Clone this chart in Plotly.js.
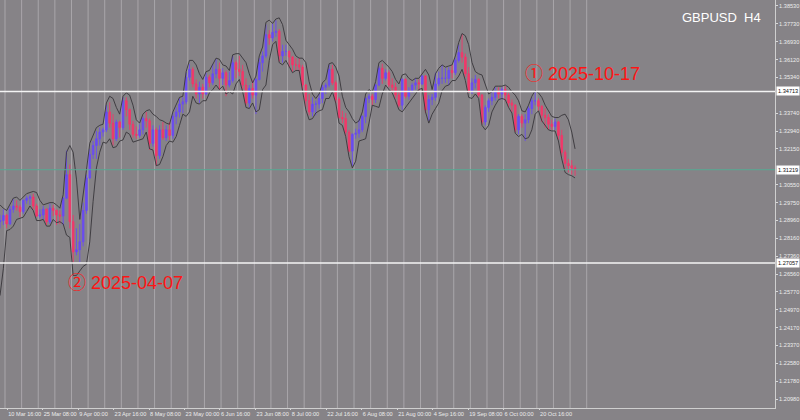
<!DOCTYPE html>
<html>
<head>
<meta charset="utf-8">
<script src="https://cdn.plot.ly/plotly-3.0.1.min.js"></script>
<style>
html,body{margin:0;padding:0;background:#868387;}
#chart{width:800px;height:420px;}
</style>
</head>
<body>
<div id="chart"></div>
<script>
// Daily OHLC (6 Mar 2025 .. 4 Nov 2025), grouped by trading week
const openP = [
  1.2890, 1.2895,
  1.2918, 1.2880, 1.2945, 1.2960, 1.2955,
  1.2935, 1.2985, 1.2995, 1.3000, 1.2960,
  1.2915, 1.2920, 1.2945, 1.2890, 1.2950,
  1.2940, 1.2920, 1.2915, 1.2995, 1.3100,
  1.2890, 1.2755, 1.2765, 1.2800, 1.2940,
  1.3085, 1.3190, 1.3230, 1.3260, 1.3290,
  1.3300, 1.3380, 1.3330, 1.3260, 1.3335,
  1.3310, 1.3430, 1.3390, 1.3325, 1.3280,
  1.3275, 1.3300, 1.3350, 1.3340, 1.3240,
  1.3300, 1.3185, 1.3300, 1.3265, 1.3300,
  1.3275, 1.3360, 1.3380, 1.3415, 1.3425,
  1.3535, 1.3570, 1.3505, 1.3460, 1.3490,
  1.3460, 1.3535, 1.3510, 1.3550, 1.3570,
  1.3530, 1.3555, 1.3500, 1.3520, 1.3600,
  1.3570, 1.3560, 1.3500, 1.3420, 1.3485,
  1.3455, 1.3525, 1.3600, 1.3630, 1.3725,
  1.3710, 1.3735, 1.3740, 1.3630, 1.3650,
  1.3650, 1.3625, 1.3590, 1.3590, 1.3580,
  1.3500, 1.3430, 1.3380, 1.3415, 1.3415,
  1.3440, 1.3490, 1.3500, 1.3570, 1.3510,
  1.3435, 1.3355, 1.3350, 1.3290, 1.3205,
  1.3280, 1.3285, 1.3300, 1.3360, 1.3440,
  1.3450, 1.3435, 1.3500, 1.3575, 1.3530,
  1.3555, 1.3500, 1.3490, 1.3455, 1.3410,
  1.3525, 1.3450, 1.3475, 1.3500, 1.3510,
  1.3505, 1.3540, 1.3390, 1.3435, 1.3445,
  1.3505, 1.3530, 1.3530, 1.3530, 1.3565,
  1.3555, 1.3610, 1.3645, 1.3625, 1.3550,
  1.3470, 1.3510, 1.3525, 1.3455, 1.3335,
  1.3400, 1.3430, 1.3445, 1.3470, 1.3460,
  1.3480, 1.3455, 1.3420, 1.3410, 1.3300,
  1.3360, 1.3330, 1.3345, 1.3395, 1.3430,
  1.3430, 1.3405, 1.3365, 1.3355, 1.3325,
  1.3315, 1.3335, 1.3275, 1.3200, 1.3150,
  1.3140, 1.3130
];
const highP = [
  1.2920, 1.2945,
  1.2925, 1.2960, 1.2990, 1.2985, 1.2965,
  1.2990, 1.3005, 1.3010, 1.3015, 1.2970,
  1.2945, 1.2960, 1.2950, 1.2970, 1.2965,
  1.2945, 1.2940, 1.3000, 1.3207, 1.3145,
  1.2920, 1.2860, 1.2880, 1.2975, 1.3100,
  1.3215, 1.3250, 1.3295, 1.3310, 1.3310,
  1.3410, 1.3423, 1.3370, 1.3345, 1.3340,
  1.3445, 1.3445, 1.3395, 1.3340, 1.3315,
  1.3325, 1.3360, 1.3380, 1.3350, 1.3320,
  1.3310, 1.3320, 1.3335, 1.3320, 1.3335,
  1.3375, 1.3400, 1.3440, 1.3445, 1.3555,
  1.3593, 1.3580, 1.3525, 1.3515, 1.3505,
  1.3555, 1.3545, 1.3595, 1.3615, 1.3600,
  1.3575, 1.3565, 1.3560, 1.3630, 1.3610,
  1.3630, 1.3590, 1.3530, 1.3500, 1.3520,
  1.3530, 1.3620, 1.3650, 1.3770, 1.3745,
  1.3775, 1.3789, 1.3750, 1.3680, 1.3680,
  1.3655, 1.3630, 1.3620, 1.3620, 1.3590,
  1.3505, 1.3460, 1.3445, 1.3430, 1.3460,
  1.3500, 1.3510, 1.3590, 1.3590, 1.3520,
  1.3445, 1.3385, 1.3375, 1.3300, 1.3285,
  1.3305, 1.3345, 1.3365, 1.3445, 1.3460,
  1.3460, 1.3505, 1.3585, 1.3595, 1.3570,
  1.3565, 1.3530, 1.3510, 1.3475, 1.3530,
  1.3530, 1.3490, 1.3510, 1.3530, 1.3525,
  1.3545, 1.3545, 1.3455, 1.3460, 1.3555,
  1.3560, 1.3590, 1.3575, 1.3580, 1.3590,
  1.3620, 1.3680, 1.3726, 1.3640, 1.3580,
  1.3530, 1.3545, 1.3530, 1.3460, 1.3410,
  1.3440, 1.3470, 1.3490, 1.3490, 1.3490,
  1.3495, 1.3465, 1.3435, 1.3415, 1.3370,
  1.3370, 1.3370, 1.3405, 1.3445, 1.3471,
  1.3440, 1.3410, 1.3395, 1.3370, 1.3345,
  1.3350, 1.3340, 1.3300, 1.3210, 1.3170,
  1.3165, 1.3140
];
const lowP = [
  1.2860, 1.2875,
  1.2860, 1.2875, 1.2930, 1.2940, 1.2910,
  1.2925, 1.2970, 1.2965, 1.2945, 1.2910,
  1.2905, 1.2900, 1.2875, 1.2880, 1.2915,
  1.2875, 1.2880, 1.2875, 1.2990, 1.2860,
  1.2708, 1.2740, 1.2710, 1.2780, 1.2925,
  1.3080, 1.3170, 1.3170, 1.3230, 1.3270,
  1.3290, 1.3310, 1.3230, 1.3250, 1.3265,
  1.3300, 1.3360, 1.3300, 1.3265, 1.3260,
  1.3265, 1.3280, 1.3310, 1.3210, 1.3225,
  1.3140, 1.3170, 1.3255, 1.3250, 1.3255,
  1.3260, 1.3325, 1.3355, 1.3375, 1.3415,
  1.3520, 1.3490, 1.3440, 1.3420, 1.3440,
  1.3455, 1.3490, 1.3500, 1.3530, 1.3480,
  1.3500, 1.3450, 1.3490, 1.3510, 1.3530,
  1.3540, 1.3480, 1.3410, 1.3400, 1.3440,
  1.3370, 1.3520, 1.3560, 1.3620, 1.3680,
  1.3695, 1.3715, 1.3605, 1.3600, 1.3630,
  1.3580, 1.3560, 1.3565, 1.3560, 1.3480,
  1.3400, 1.3365, 1.3360, 1.3365, 1.3395,
  1.3420, 1.3460, 1.3490, 1.3500, 1.3420,
  1.3350, 1.3330, 1.3270, 1.3200, 1.3140,
  1.3260, 1.3265, 1.3290, 1.3330, 1.3420,
  1.3410, 1.3420, 1.3495, 1.3505, 1.3520,
  1.3490, 1.3470, 1.3440, 1.3400, 1.3390,
  1.3440, 1.3435, 1.3465, 1.3480, 1.3475,
  1.3500, 1.3375, 1.3340, 1.3410, 1.3430,
  1.3495, 1.3505, 1.3510, 1.3500, 1.3530,
  1.3545, 1.3600, 1.3600, 1.3535, 1.3465,
  1.3460, 1.3485, 1.3445, 1.3325, 1.3320,
  1.3380, 1.3410, 1.3430, 1.3440, 1.3435,
  1.3430, 1.3400, 1.3380, 1.3290, 1.3280,
  1.3310, 1.3250, 1.3330, 1.3370, 1.3410,
  1.3385, 1.3335, 1.3310, 1.3300, 1.3300,
  1.3300, 1.3255, 1.3180, 1.3125, 1.3110,
  1.3100, 1.3095
];
const closeP = [
  1.2895, 1.2918,
  1.2880, 1.2945, 1.2960, 1.2955, 1.2935,
  1.2985, 1.2995, 1.3000, 1.2960, 1.2915,
  1.2920, 1.2945, 1.2890, 1.2950, 1.2940,
  1.2920, 1.2915, 1.2995, 1.3100, 1.2890,
  1.2755, 1.2765, 1.2800, 1.2940, 1.3085,
  1.3190, 1.3230, 1.3260, 1.3290, 1.3300,
  1.3380, 1.3330, 1.3260, 1.3335, 1.3310,
  1.3430, 1.3390, 1.3325, 1.3280, 1.3275,
  1.3300, 1.3350, 1.3340, 1.3240, 1.3300,
  1.3185, 1.3300, 1.3265, 1.3300, 1.3275,
  1.3360, 1.3380, 1.3415, 1.3425, 1.3535,
  1.3570, 1.3505, 1.3460, 1.3490, 1.3460,
  1.3535, 1.3510, 1.3550, 1.3570, 1.3530,
  1.3555, 1.3500, 1.3520, 1.3600, 1.3570,
  1.3560, 1.3500, 1.3420, 1.3485, 1.3455,
  1.3525, 1.3600, 1.3630, 1.3725, 1.3710,
  1.3735, 1.3740, 1.3630, 1.3650, 1.3650,
  1.3625, 1.3590, 1.3590, 1.3580, 1.3500,
  1.3430, 1.3380, 1.3415, 1.3415, 1.3440,
  1.3490, 1.3500, 1.3570, 1.3510, 1.3435,
  1.3355, 1.3350, 1.3290, 1.3205, 1.3280,
  1.3285, 1.3300, 1.3360, 1.3440, 1.3450,
  1.3435, 1.3500, 1.3575, 1.3530, 1.3555,
  1.3500, 1.3490, 1.3455, 1.3410, 1.3525,
  1.3450, 1.3475, 1.3500, 1.3510, 1.3505,
  1.3540, 1.3390, 1.3435, 1.3445, 1.3505,
  1.3530, 1.3530, 1.3530, 1.3565, 1.3555,
  1.3610, 1.3645, 1.3625, 1.3550, 1.3470,
  1.3510, 1.3525, 1.3455, 1.3335, 1.3400,
  1.3430, 1.3445, 1.3470, 1.3460, 1.3480,
  1.3455, 1.3420, 1.3410, 1.3300, 1.3360,
  1.3330, 1.3345, 1.3395, 1.3430, 1.3430,
  1.3405, 1.3365, 1.3355, 1.3325, 1.3315,
  1.3335, 1.3275, 1.3200, 1.3150, 1.3140,
  1.3130, 1.3122
];
// Bollinger band envelopes
const bandUpper = [
  1.2965, 1.2950,
  1.2940, 1.2965, 1.2995, 1.3000, 1.2985,
  1.3000, 1.3015, 1.3020, 1.3025, 1.3020,
  1.2985, 1.2965, 1.2970, 1.2975, 1.2975,
  1.2965, 1.2950, 1.3010, 1.3200, 1.3230,
  1.3200, 1.3080, 1.2900, 1.3000, 1.3120,
  1.3240, 1.3275, 1.3310, 1.3320, 1.3325,
  1.3420, 1.3450, 1.3440, 1.3400, 1.3370,
  1.3450, 1.3465, 1.3455, 1.3410, 1.3345,
  1.3330, 1.3370, 1.3385, 1.3390, 1.3370,
  1.3360, 1.3345, 1.3340, 1.3330, 1.3325,
  1.3380, 1.3410, 1.3445, 1.3450, 1.3560,
  1.3610, 1.3610, 1.3590, 1.3550, 1.3525,
  1.3560, 1.3565, 1.3590, 1.3620, 1.3615,
  1.3590, 1.3585, 1.3565, 1.3635, 1.3640,
  1.3640, 1.3620, 1.3600, 1.3550, 1.3510,
  1.3540, 1.3630, 1.3670, 1.3780, 1.3790,
  1.3775, 1.3795, 1.3800, 1.3770, 1.3700,
  1.3680, 1.3660, 1.3630, 1.3620, 1.3620,
  1.3600, 1.3515, 1.3460, 1.3440, 1.3460,
  1.3510, 1.3525, 1.3595, 1.3600, 1.3580,
  1.3540, 1.3450, 1.3400, 1.3380, 1.3350,
  1.3330, 1.3340, 1.3380, 1.3460, 1.3480,
  1.3470, 1.3515, 1.3600, 1.3610, 1.3595,
  1.3580, 1.3560, 1.3525, 1.3505, 1.3545,
  1.3550, 1.3530, 1.3520, 1.3530, 1.3530,
  1.3550, 1.3570, 1.3545, 1.3480, 1.3550,
  1.3575, 1.3590, 1.3580, 1.3585, 1.3590,
  1.3630, 1.3690, 1.3730, 1.3720, 1.3680,
  1.3600, 1.3560, 1.3550, 1.3545, 1.3500,
  1.3460, 1.3470, 1.3495, 1.3495, 1.3495,
  1.3500, 1.3490, 1.3470, 1.3455, 1.3430,
  1.3385, 1.3380, 1.3410, 1.3450, 1.3475,
  1.3465, 1.3445, 1.3410, 1.3385, 1.3360,
  1.3355, 1.3355, 1.3365, 1.3370, 1.3345,
  1.3290, 1.3215
];
const bandLower = [
  1.2560, 1.2680,
  1.2850, 1.2855, 1.2870, 1.2900, 1.2905,
  1.2910, 1.2935, 1.2960, 1.2940, 1.2895,
  1.2895, 1.2900, 1.2870, 1.2870, 1.2900,
  1.2885, 1.2890, 1.2880, 1.2830, 1.2820,
  1.2650, 1.2650, 1.2670, 1.2690, 1.2700,
  1.2800, 1.2980, 1.3130, 1.3200, 1.3245,
  1.3240, 1.3260, 1.3220, 1.3225, 1.3250,
  1.3255, 1.3290, 1.3280, 1.3245, 1.3250,
  1.3255, 1.3260, 1.3290, 1.3215, 1.3210,
  1.3140, 1.3145, 1.3180, 1.3230, 1.3250,
  1.3245, 1.3270, 1.3320, 1.3370, 1.3360,
  1.3380, 1.3450, 1.3420, 1.3415, 1.3430,
  1.3430, 1.3465, 1.3480, 1.3500, 1.3480,
  1.3495, 1.3460, 1.3470, 1.3460, 1.3505,
  1.3525, 1.3470, 1.3400, 1.3395, 1.3420,
  1.3380, 1.3390, 1.3480, 1.3500, 1.3610,
  1.3680, 1.3695, 1.3600, 1.3590, 1.3610,
  1.3580, 1.3555, 1.3565, 1.3565, 1.3475,
  1.3390, 1.3345, 1.3350, 1.3375, 1.3385,
  1.3390, 1.3440, 1.3440, 1.3470, 1.3420,
  1.3330, 1.3320, 1.3270, 1.3180, 1.3130,
  1.3160, 1.3250, 1.3255, 1.3260, 1.3330,
  1.3410, 1.3405, 1.3400, 1.3460, 1.3500,
  1.3480, 1.3465, 1.3430, 1.3390, 1.3380,
  1.3400, 1.3420, 1.3440, 1.3465, 1.3480,
  1.3485, 1.3380, 1.3330, 1.3370, 1.3395,
  1.3420, 1.3475, 1.3495, 1.3500, 1.3520,
  1.3520, 1.3540, 1.3570, 1.3520, 1.3445,
  1.3440, 1.3460, 1.3440, 1.3320, 1.3300,
  1.3320, 1.3380, 1.3410, 1.3435, 1.3440,
  1.3435, 1.3400, 1.3375, 1.3285, 1.3270,
  1.3280, 1.3260, 1.3265, 1.3300, 1.3370,
  1.3385, 1.3340, 1.3320, 1.3300, 1.3295,
  1.3295, 1.3250, 1.3170, 1.3110, 1.3100,
  1.3095, 1.3085
];
// Time-axis labels (positions in trading-day units, day 0 = Mon 10 Mar)
const timeTickDays = [0.1667, 10.833, 21.5, 32.167, 42.833, 53.5, 64.167, 74.833, 85.5, 96.167, 106.833, 117.5, 128.167, 138.833, 149.5, 160.167];
const timeTickLabels = ["10 Mar 16:00", "25 Mar 08:00", "9 Apr 00:00", "23 Apr 16:00", "8 May 08:00", "23 May 00:00", "6 Jun 16:00", "23 Jun 08:00", "8 Jul 00:00", "22 Jul 16:00", "6 Aug 08:00", "21 Aug 00:00", "4 Sep 16:00", "19 Sep 08:00", "6 Oct 00:00", "20 Oct 16:00"];
// Price-axis labels
const priceTickVals = [1.38530, 1.37730, 1.36930, 1.36120, 1.35340, 1.33740, 1.32940, 1.32150, 1.30550, 1.29750, 1.28960, 1.28160, 1.27360, 1.26560, 1.25770, 1.24970, 1.24170, 1.23370, 1.22580, 1.21780, 1.20980];
const priceTickText = ["1.38530", "1.37730", "1.36930", "1.36120", "1.35340", "1.33740", "1.32940", "1.32150", "1.30550", "1.29750", "1.28960", "1.28160", "1.27360", "1.26560", "1.25770", "1.24970", "1.24170", "1.23370", "1.22580", "1.21780", "1.20980"];
// Marked levels
const levelValues = [1.34713, 1.27057];
const levelText = ["1.34713", "1.27057"];
const levelNotes = ["\u2460 2025-10-17", "\u2461 2025-04-07"];
const bidValue = 1.31219;
const bidText = "1.31219";

const dayIndex = closeP.map((_, i) => i - 2);

const traces = [
  {
    type: 'scatter', mode: 'lines', x: dayIndex, y: bandUpper,
    line: {color: '#38363a', width: 0.9}, hoverinfo: 'skip', showlegend: false
  },
  {
    type: 'scatter', mode: 'lines', x: dayIndex, y: bandLower,
    line: {color: '#38363a', width: 0.9}, hoverinfo: 'skip', showlegend: false
  },
  {
    type: 'candlestick', x: dayIndex,
    open: openP, high: highP, low: lowP, close: closeP,
    increasing: {line: {color: '#6a4cf2', width: 0.9}, fillcolor: '#6a4cf2'},
    decreasing: {line: {color: '#f2386a', width: 0.9}, fillcolor: '#f2386a'},
    whiskerwidth: 0, hoverinfo: 'skip', showlegend: false
  }
];

const shapes = [];
for (let k = 0; k <= 35; k++) {
  shapes.push({type: 'line', xref: 'x', yref: 'paper', x0: 5 * k - 0.5, x1: 5 * k - 0.5, y0: 0, y1: 1,
    line: {color: '#a9a6aa', width: 1}, layer: 'below'});
}
levelValues.forEach(v => shapes.push({type: 'line', xref: 'paper', yref: 'y', x0: 0, x1: 1, y0: v, y1: v,
  line: {color: '#f4f4f4', width: 1.6}}));
shapes.push({type: 'line', xref: 'paper', yref: 'y', x0: 0, x1: 1, y0: bidValue, y1: bidValue,
  line: {color: '#58a892', width: 1}});

const boxFont = {family: 'Liberation Sans, Arial, sans-serif', size: 5.6, color: '#111111'};
const annotations = [];
levelValues.forEach((v, i) => annotations.push({xref: 'paper', yref: 'y', x: 1, y: v, xanchor: 'left', yanchor: 'middle',
  xshift: 1, text: levelText[i], showarrow: false, bgcolor: '#ffffff', borderpad: 1, font: boxFont}));
annotations.push({xref: 'paper', yref: 'y', x: 1, y: bidValue, xanchor: 'left', yanchor: 'middle',
  xshift: 1, text: bidText, showarrow: false, bgcolor: '#ffffff', borderpad: 1, font: boxFont});
const noteFont = {family: 'Liberation Sans, Noto Sans CJK JP, sans-serif', size: 18, color: '#ff1414'};
annotations.push({xref: 'paper', yref: 'paper', x: 523 / 775, y: 1 - 74 / 408, xanchor: 'left', yanchor: 'middle',
  text: levelNotes[0], showarrow: false, font: noteFont});
annotations.push({xref: 'paper', yref: 'paper', x: 66 / 775, y: 1 - 283 / 408, xanchor: 'left', yanchor: 'middle',
  text: levelNotes[1], showarrow: false, font: noteFont});
annotations.push({xref: 'paper', yref: 'paper', x: 763 / 775, y: 1 - 18 / 408, xanchor: 'right', yanchor: 'middle',
  text: 'GBPUSD&nbsp;&nbsp;H4', showarrow: false, font: {family: 'Liberation Sans, Arial, sans-serif', size: 13, color: '#ffffff'}});

const axisFont = {family: 'Liberation Sans, Arial, sans-serif', size: 5.6, color: '#ececec'};
const layout = {
  width: 800, height: 420,
  margin: {l: 0, r: 25, t: 0, b: 12, pad: 0},
  paper_bgcolor: '#868387', plot_bgcolor: '#868387',
  showlegend: false,
  xaxis: {
    range: [-2.004, 231.15], showgrid: false, zeroline: false,
    tickmode: 'array', tickvals: timeTickDays, ticktext: timeTickLabels,
    tickangle: 0, automargin: false,
    ticks: 'outside', ticklen: 1, tickcolor: '#d8d8d8', tickfont: axisFont,
    ticklabelposition: 'outside right',
    showline: true, linecolor: '#cfcfcf', linewidth: 1,
    rangeslider: {visible: false}, fixedrange: true
  },
  yaxis: {
    side: 'right', range: [1.2058, 1.38797], showgrid: false, zeroline: false,
    tickmode: 'array', tickvals: priceTickVals, ticktext: priceTickText,
    automargin: false,
    ticks: 'outside', ticklen: 2, tickcolor: '#d8d8d8', tickfont: axisFont,
    showline: true, linecolor: '#cfcfcf', linewidth: 1, fixedrange: true
  },
  shapes: shapes,
  annotations: annotations
};

Plotly.newPlot('chart', traces, layout, {staticPlot: true, displayModeBar: false});
</script>
</body>
</html>
